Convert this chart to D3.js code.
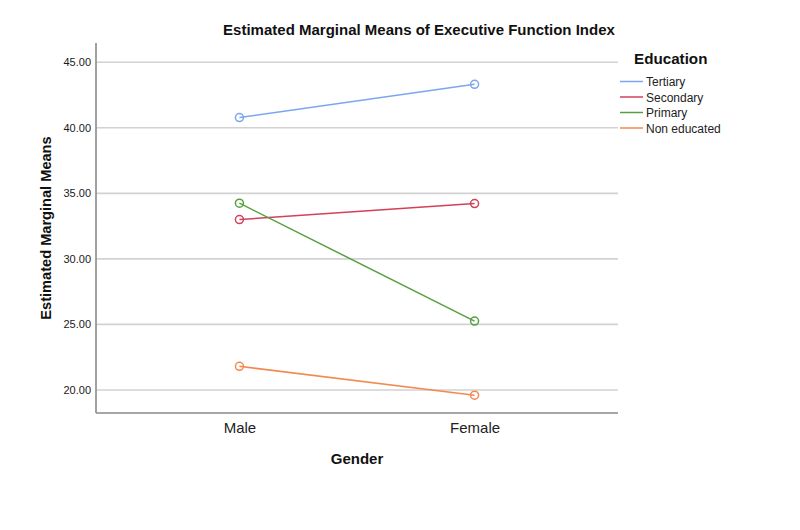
<!DOCTYPE html>
<html><head><meta charset="utf-8">
<script src="https://cdn.jsdelivr.net/npm/d3@7"></script>
<style>body{margin:0;background:#fff;}svg{display:block;font-family:"Liberation Sans",Arial,sans-serif;}</style>
</head><body>
<svg id="c" width="800" height="530"></svg>
<script>
const genders = ["Male", "Female"];
const groups = ["Tertiary", "Secondary", "Primary", "Non educated"];
const tertiary = [40.78, 43.32];
const secondary = [33.00, 34.22];
const primary = [34.25, 25.25];
const nonEducated = [21.80, 19.60];
const yTicks = [20, 25, 30, 35, 40, 45];
const colors = ["#7ba6ef", "#d2405a", "#56a03e", "#f4894f"];
const seriesValues = [tertiary, secondary, primary, nonEducated];

const svg = d3.select("#c");
const pLeft = 96, pRight = 618, pTop = 43, pBottom = 413;

const x = d3.scalePoint().domain(genders).range([pLeft, pRight]).padding(0.61);
const y = d3.scaleLinear().domain([18.24, 46.47]).range([pBottom, pTop]);

// gridlines
svg.append("g").selectAll("line").data(yTicks).join("line")
  .attr("x1", pLeft).attr("x2", pRight)
  .attr("y1", d => y(d)).attr("y2", d => y(d))
  .attr("stroke", "#d2d2d2").attr("stroke-width", 1.6);

// y axis
const yAxis = svg.append("g").attr("transform", `translate(${pLeft},0)`)
  .call(d3.axisLeft(y).tickValues(yTicks).tickFormat(d3.format(".2f")).tickSize(0).tickPadding(5));
yAxis.select(".domain").remove();
yAxis.selectAll("text").attr("font-size", 11).attr("fill", "#1a1a1a").attr("font-family", "Liberation Sans, Arial, sans-serif");

// x axis
const xAxis = svg.append("g").attr("transform", `translate(0,${pBottom})`)
  .call(d3.axisBottom(x).tickSize(0).tickPadding(9));
xAxis.select(".domain").remove();
xAxis.selectAll("text").attr("font-size", 15).attr("fill", "#222").attr("font-family", "Liberation Sans, Arial, sans-serif");

// axis lines
svg.append("line").attr("x1", pLeft).attr("x2", pLeft).attr("y1", pTop).attr("y2", pBottom)
  .attr("stroke", "#8a8a8a").attr("stroke-width", 1.6);
svg.append("line").attr("x1", pLeft).attr("x2", pRight).attr("y1", pBottom).attr("y2", pBottom)
  .attr("stroke", "#8a8a8a").attr("stroke-width", 1.6);

// lines and points
const line = d3.line().x((d, i) => x(genders[i])).y(d => y(d));
seriesValues.forEach((vals, k) => {
  svg.append("path").datum(vals).attr("d", line).attr("fill", "none")
    .attr("stroke", colors[k]).attr("stroke-width", 1.5);
  svg.append("g").selectAll("circle").data(vals).join("circle")
    .attr("cx", (d, i) => x(genders[i])).attr("cy", d => y(d)).attr("r", 4)
    .attr("fill", "none").attr("stroke", colors[k]).attr("stroke-width", 1.5);
});

// titles
svg.append("text").attr("x", 419).attr("y", 35).attr("text-anchor", "middle")
  .attr("font-size", 15).attr("font-weight", "bold").attr("fill", "#111")
  .text("Estimated Marginal Means of Executive Function Index");
svg.append("text").attr("transform", `translate(51,${(pTop + pBottom) / 2}) rotate(-90)`)
  .attr("text-anchor", "middle").attr("font-size", 14.6).attr("font-weight", "bold").attr("fill", "#111")
  .text("Estimated Marginal Means");
svg.append("text").attr("x", (pLeft + pRight) / 2).attr("y", 464).attr("text-anchor", "middle")
  .attr("font-size", 15).attr("font-weight", "bold").attr("fill", "#111").text("Gender");

// legend
svg.append("text").attr("x", 634).attr("y", 64).attr("font-size", 15.2).attr("font-weight", "bold")
  .attr("fill", "#111").text("Education");
const lg = svg.append("g").selectAll("g").data(groups).join("g")
  .attr("transform", (d, i) => `translate(620,${81.5 + i * 15.5})`);
lg.append("line").attr("x1", 0).attr("x2", 23).attr("stroke", (d, i) => colors[i]).attr("stroke-width", 1.5);
lg.append("text").attr("x", 26).attr("y", 4.5).attr("font-size", 12).attr("fill", "#222").text(d => d);
</script>
</body></html>
